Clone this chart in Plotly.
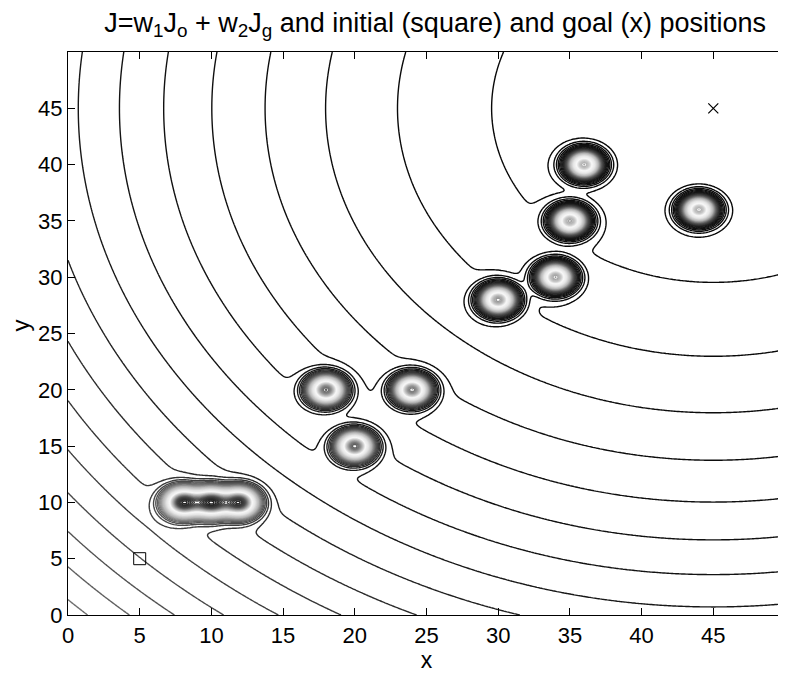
import numpy as np
import plotly.graph_objects as go

# ---- data ----
obstacle_x = [8, 10, 12, 20, 18, 24, 30, 34, 35, 36, 44]
obstacle_y = [10, 10, 10, 15, 20, 20, 28, 30, 35, 40, 36]
goal_x = [45]
goal_y = [45]
start_x = [5]
start_y = [5]
w1 = 10000.0          # obstacle weight
w2 = 1.0              # goal weight
obstacle_sigma = 1.15 # obstacle spread
level_start = 239
level_step = 246
tick_vals = [0, 5, 10, 15, 20, 25, 30, 35, 40, 45]
title_text = "J=w<sub>1</sub>J<sub>o</sub> + w<sub>2</sub>J<sub>g</sub> and initial (square) and goal (x) positions"

# ---- field ----
xs = np.linspace(0, 50, 501)
ys = np.linspace(0, 50, 501)
X, Y = np.meshgrid(xs, ys)
Jg = (X - goal_x[0]) ** 2 + (Y - goal_y[0]) ** 2
Jo = np.zeros_like(X)
for ox, oy in zip(obstacle_x, obstacle_y):
    Jo += np.exp(-((X - ox) ** 2 + (Y - oy) ** 2) / obstacle_sigma ** 2)
J = w1 * Jo + w2 * Jg
jmax = float(J.max())

# grayscale rendering of a jet-like map
gray_scale = [
    [0.0, "rgb(8,8,8)"],
    [0.125, "rgb(20,20,20)"],
    [0.25, "rgb(85,85,85)"],
    [0.375, "rgb(180,180,180)"],
    [0.5, "rgb(228,228,228)"],
    [0.625, "rgb(248,248,248)"],
    [0.75, "rgb(170,170,170)"],
    [0.875, "rgb(75,75,75)"],
    [1.0, "rgb(30,30,30)"],
]

fig = go.Figure()
fig.add_trace(go.Contour(
    x=xs, y=ys, z=J,
    zmin=0, zmax=jmax, zauto=False,
    contours=dict(start=level_start, end=jmax, size=level_step, coloring="lines"),
    line=dict(width=1.4, smoothing=0),
    colorscale=gray_scale,
    showscale=False,
    hoverinfo="skip",
))
fig.add_trace(go.Scatter(
    x=start_x, y=start_y, mode="markers",
    marker=dict(symbol="square-open", size=12, color="black", line=dict(width=1)),
    showlegend=False,
))
fig.add_trace(go.Scatter(
    x=goal_x, y=goal_y, mode="markers",
    marker=dict(symbol="x-thin-open", size=10, color="black", line=dict(width=1.2, color="black")),
    showlegend=False,
))

axis_common = dict(
    range=[0, 50], tickvals=tick_vals, ticks="inside", ticklen=7, tickcolor="black",
    showline=True, linecolor="black", linewidth=1.2, mirror="ticks",
    showgrid=False, zeroline=False, automargin=False,
    tickfont=dict(size=22, color="black"),
)
# the page adds an 8px body margin, so the figure is sized to fit inside the window
fig.update_layout(
    width=778, height=667,
    margin=dict(l=60, r=1, t=44, b=60),
    paper_bgcolor="white", plot_bgcolor="white",
    font=dict(family="Liberation Sans, Arial, Helvetica, sans-serif", color="black"),
    title=dict(text=title_text, x=0.549, xanchor="center", xref="container",
               y=0.993, yanchor="top", yref="container",
               font=dict(size=27, color="black")),
    xaxis=dict(axis_common, title=dict(text="x", font=dict(size=23), standoff=0)),
    yaxis=dict(axis_common),
    annotations=[dict(text="y", textangle=-90, xref="paper", yref="paper",
                      x=0, y=0.5, xanchor="center", yanchor="middle",
                      xshift=-48, yshift=8, showarrow=False,
                      font=dict(size=24, color="black"))],
    showlegend=False,
)
fig.write_html("out.html")
